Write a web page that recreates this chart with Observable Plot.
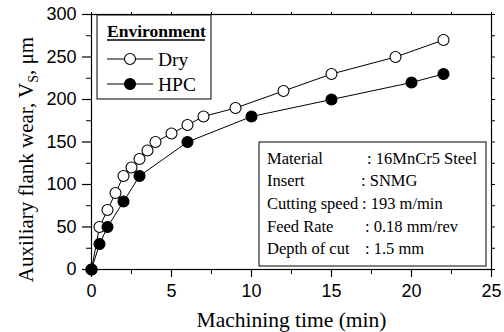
<!DOCTYPE html>
<html>
<head>
<meta charset="utf-8">
<script src="https://cdn.jsdelivr.net/npm/d3@7"></script>
<script src="https://cdn.jsdelivr.net/npm/@observablehq/plot@0.6"></script>
<style>
  html, body { margin: 0; padding: 0; background: white; }
  svg { display: block; }
</style>
</head>
<body>
<div id="chart"></div>
<script>
// ---- data ----
const dryTime = [0, 0.5, 1, 1.5, 2, 2.5, 3, 3.5, 4, 5, 6, 7, 9, 12, 15, 19, 22];
const dryWear = [0, 50, 70, 90, 110, 120, 130, 140, 150, 160, 170, 180, 190, 210, 230, 250, 270];
const hpcTime = [0, 0.5, 1, 2, 3, 6, 10, 15, 20, 22];
const hpcWear = [0, 30, 50, 80, 110, 150, 180, 200, 220, 230];
const seriesNames = ["Dry", "HPC"];
const xTicks = [0, 5, 10, 15, 20, 25];
const yTicks = [0, 50, 100, 150, 200, 250, 300];
const legendTitle = "Environment";
const infoKeys = ["Material", "Insert", "Cutting speed", "Feed Rate", "Depth of cut"];
const infoValues = [": 16MnCr5 Steel", ": SNMG", ": 193 m/min", ": 0.18 mm/rev", ": 1.5 mm"];

(function () {
const dry = dryTime.map((t, i) => ({t, w: dryWear[i]}));
const hpc = hpcTime.map((t, i) => ({t, w: hpcWear[i]}));

const serif = "'Liberation Serif', 'Times New Roman', serif";
const sans = "'Liberation Sans', Arial, sans-serif";

const plot = Plot.plot({
  width: 504,
  height: 332,
  marginLeft: 91,
  marginRight: 13,
  marginTop: 14,
  marginBottom: 63,
  x: {domain: [0, 25]},
  y: {domain: [0, 300]},
  style: {fontFamily: sans, fontSize: "18px", color: "black", background: "white", overflow: "visible"},
  marks: [
    Plot.frame({stroke: "black", strokeWidth: 1.2}),
    Plot.axisX({ticks: xTicks, tickSize: 8, tickPadding: 7, fontSize: 18, label: null, strokeWidth: 1.2}),
    Plot.axisX({ticks: d3.range(2.5, 25, 5), tickSize: 5, text: null, label: null}),
    Plot.axisX({anchor: "top", ticks: d3.range(0, 25.1, 2.5), tickSize: 3, text: null, label: null}),
    Plot.axisY({ticks: yTicks, tickSize: 9, tickPadding: 6, fontSize: 18, label: null, strokeWidth: 1.2}),
    Plot.axisY({ticks: d3.range(25, 300, 50), tickSize: 5, text: null, label: null}),
    Plot.axisY({anchor: "right", ticks: d3.range(0, 300.1, 25), tickSize: 3, text: null, label: null}),
    Plot.line(dry, {x: "t", y: "w", stroke: "black", strokeWidth: 1}),
    Plot.line(hpc, {x: "t", y: "w", stroke: "black", strokeWidth: 1}),
    Plot.dot(dry, {x: "t", y: "w", r: 5.5, fill: "white", stroke: "black", strokeWidth: 1.1}),
    Plot.dot(hpc, {x: "t", y: "w", r: 5.5, fill: "black", stroke: "black", strokeWidth: 1.1}),
    Plot.text(["Machining time (min)"], {frameAnchor: "bottom", lineAnchor: "bottom", dy: 57, fontFamily: serif, fontSize: 21.5, fill: "black"})
  ]
});

document.getElementById("chart").appendChild(plot);

const svg = d3.select(plot);
const xs = plot.scale("x"), ys = plot.scale("y");
const pLeft = xs.range[0], pRight = xs.range[1];
const pTop = ys.range[1], pBottom = ys.range[0];

function txt(sel, x, y, size, s, anchor) {
  return sel.append("text").attr("x", x).attr("y", y)
    .style("font-family", serif).style("font-size", size + "px")
    .style("text-anchor", anchor || "start").attr("fill", "black").text(s);
}

// Y axis label with subscript
const yl = svg.append("text")
  .attr("transform", `translate(33,${(pTop + pBottom) / 2 + 18}) rotate(-90)`)
  .style("text-anchor", "middle")
  .style("font-family", serif)
  .style("font-size", "21px")
  .attr("fill", "black");
yl.append("tspan").text("Auxiliary flank wear, V");
yl.append("tspan").style("font-size", "14px").attr("dy", 5).text("S");
yl.append("tspan").attr("dy", -5).text(", μm");

// Legend box
const lg = svg.append("g").attr("transform", `translate(${pLeft + 6},${pTop + 1})`);
lg.append("rect").attr("x", 0).attr("y", 0).attr("width", 114).attr("height", 84)
  .attr("fill", "white").attr("stroke", "black").attr("stroke-width", 1);
txt(lg, 10, 22, 17.5, legendTitle).style("font-weight", "bold");
lg.append("line").attr("x1", 10).attr("x2", 108).attr("y1", 25).attr("y2", 25)
  .attr("stroke", "black").attr("stroke-width", 1.3);
seriesNames.forEach((name, i) => {
  const cy = 44 + i * 25;
  lg.append("line").attr("x1", 10).attr("x2", 56).attr("y1", cy).attr("y2", cy)
    .attr("stroke", "black").attr("stroke-width", 1);
  lg.append("circle").attr("cx", 33).attr("cy", cy).attr("r", 5.5)
    .attr("fill", i === 0 ? "white" : "black").attr("stroke", "black").attr("stroke-width", 1.1);
  txt(lg, 61, cy + 6.5, 19.5, name);
});

// Info box
const ib = svg.append("g").attr("transform", `translate(${pRight - 232},${pBottom - 127})`);
ib.append("rect").attr("x", 0).attr("y", 0).attr("width", 227).attr("height", 124)
  .attr("fill", "white").attr("stroke", "black").attr("stroke-width", 1);
const valueX = [108, 102, 103, 106, 106];
infoKeys.forEach((k, i) => {
  const by = 21.5 + i * 22.7;
  txt(ib, 8, by, 16.5, k);
  txt(ib, valueX[i], by, 16.5, infoValues[i]);
});
})();
</script>
</body>
</html>
